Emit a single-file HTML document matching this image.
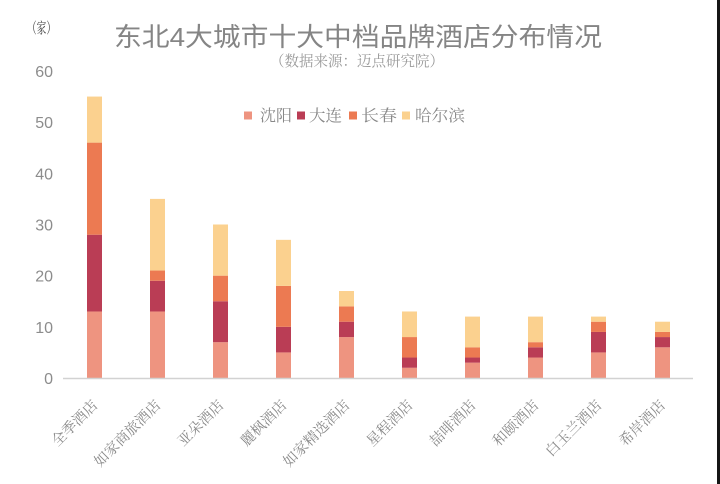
<!DOCTYPE html>
<html>
<head>
<meta charset="utf-8">
<style>
  html, body { margin: 0; padding: 0; background: #fff; }
  body { width: 720px; height: 484px; overflow: hidden; }
  svg { display: block; }
  text { font-family: "Liberation Sans", "Noto Sans CJK SC", sans-serif; }
  .serif { font-family: "Liberation Serif", "Noto Serif CJK SC", serif; }
</style>
</head>
<body>
<svg width="720" height="484" viewBox="0 0 720 484" xmlns="http://www.w3.org/2000/svg">
  <rect x="0" y="0" width="720" height="484" fill="#ffffff"/>
  <text class="serif" x="27" y="33" font-size="15" fill="#444" textLength="29" lengthAdjust="spacingAndGlyphs">（家）</text>
  <text x="114" y="46" font-size="26" fill="#858585" textLength="488" lengthAdjust="spacingAndGlyphs">东北4大城市十大中档品牌酒店分布情况</text>
  <text class="serif" x="270" y="66" font-size="15" fill="#9a9a9a" textLength="174" lengthAdjust="spacingAndGlyphs">（数据来源：迈点研究院）</text>
  <rect x="244" y="111.5" width="8" height="8" fill="#EE9480"/>
  <text class="serif" x="260" y="121" font-size="16" fill="#888" textLength="32" lengthAdjust="spacingAndGlyphs">沈阳</text>
  <rect x="297" y="111.5" width="8" height="8" fill="#BA3D55"/>
  <text class="serif" x="309" y="121" font-size="16" fill="#888" textLength="33" lengthAdjust="spacingAndGlyphs">大连</text>
  <rect x="349" y="111.5" width="8" height="8" fill="#EC7A52"/>
  <text class="serif" x="361" y="121" font-size="16" fill="#888" textLength="36" lengthAdjust="spacingAndGlyphs">长春</text>
  <rect x="402" y="111.5" width="8" height="8" fill="#FBD18F"/>
  <text class="serif" x="415" y="121" font-size="16" fill="#888" textLength="50" lengthAdjust="spacingAndGlyphs">哈尔滨</text>
  <g font-size="16" fill="#8c8c8c" text-anchor="end">
    <text x="53" y="384">0</text>
    <text x="53" y="332.8">10</text>
    <text x="53" y="281.7">20</text>
    <text x="53" y="230.5">30</text>
    <text x="53" y="179.3">40</text>
    <text x="53" y="128.2">50</text>
    <text x="53" y="77">60</text>
  </g>
  <g>
    <rect x="87" y="311.48" width="15" height="66.52" fill="#EE9480"/>
    <rect x="87" y="234.72" width="15" height="76.76" fill="#BA3D55"/>
    <rect x="87" y="142.62" width="15" height="92.10" fill="#EC7A52"/>
    <rect x="87" y="96.57" width="15" height="46.05" fill="#FBD18F"/>
    <rect x="150" y="311.48" width="15" height="66.52" fill="#EE9480"/>
    <rect x="150" y="280.78" width="15" height="30.70" fill="#BA3D55"/>
    <rect x="150" y="270.54" width="15" height="10.24" fill="#EC7A52"/>
    <rect x="150" y="198.90" width="15" height="71.64" fill="#FBD18F"/>
    <rect x="213" y="342.18" width="15" height="35.82" fill="#EE9480"/>
    <rect x="213" y="301.25" width="15" height="40.93" fill="#BA3D55"/>
    <rect x="213" y="275.66" width="15" height="25.59" fill="#EC7A52"/>
    <rect x="213" y="224.49" width="15" height="51.17" fill="#FBD18F"/>
    <rect x="276" y="352.42" width="15" height="25.58" fill="#EE9480"/>
    <rect x="276" y="326.83" width="15" height="25.59" fill="#BA3D55"/>
    <rect x="276" y="285.89" width="15" height="40.94" fill="#EC7A52"/>
    <rect x="276" y="239.84" width="15" height="46.05" fill="#FBD18F"/>
    <rect x="339" y="337.06" width="15" height="40.94" fill="#EE9480"/>
    <rect x="339" y="321.71" width="15" height="15.35" fill="#BA3D55"/>
    <rect x="339" y="306.36" width="15" height="15.35" fill="#EC7A52"/>
    <rect x="339" y="291.01" width="15" height="15.35" fill="#FBD18F"/>
    <rect x="402" y="367.77" width="15" height="10.23" fill="#EE9480"/>
    <rect x="402" y="357.53" width="15" height="10.24" fill="#BA3D55"/>
    <rect x="402" y="337.06" width="15" height="20.47" fill="#EC7A52"/>
    <rect x="402" y="311.48" width="15" height="25.58" fill="#FBD18F"/>
    <rect x="465" y="362.65" width="15" height="15.35" fill="#EE9480"/>
    <rect x="465" y="357.53" width="15" height="5.12" fill="#BA3D55"/>
    <rect x="465" y="347.30" width="15" height="10.23" fill="#EC7A52"/>
    <rect x="465" y="316.60" width="15" height="30.70" fill="#FBD18F"/>
    <rect x="528" y="357.53" width="15" height="20.47" fill="#EE9480"/>
    <rect x="528" y="347.30" width="15" height="10.23" fill="#BA3D55"/>
    <rect x="528" y="342.18" width="15" height="5.12" fill="#EC7A52"/>
    <rect x="528" y="316.60" width="15" height="25.58" fill="#FBD18F"/>
    <rect x="591" y="352.42" width="15" height="25.58" fill="#EE9480"/>
    <rect x="591" y="331.95" width="15" height="20.47" fill="#BA3D55"/>
    <rect x="591" y="321.71" width="15" height="10.24" fill="#EC7A52"/>
    <rect x="591" y="316.60" width="15" height="5.11" fill="#FBD18F"/>
    <rect x="655" y="347.30" width="15" height="30.70" fill="#EE9480"/>
    <rect x="655" y="337.06" width="15" height="10.24" fill="#BA3D55"/>
    <rect x="655" y="331.95" width="15" height="5.11" fill="#EC7A52"/>
    <rect x="655" y="321.71" width="15" height="10.24" fill="#FBD18F"/>
  </g>
  <line x1="63" y1="378.5" x2="693" y2="378.5" stroke="#d2d2d2" stroke-width="1.5"/>
  <g font-size="14.5" fill="#8a8a8a" text-anchor="end">
    <text class="serif" transform="translate(98.5,406) rotate(-45)">全季酒店</text>
    <text class="serif" transform="translate(161.5,406) rotate(-45)">如家商旅酒店</text>
    <text class="serif" transform="translate(224.5,406) rotate(-45)">亚朵酒店</text>
    <text class="serif" transform="translate(287.5,406) rotate(-45)">麗枫酒店</text>
    <text class="serif" transform="translate(350.5,406) rotate(-45)">如家精选酒店</text>
    <text class="serif" transform="translate(413.5,406) rotate(-45)">星程酒店</text>
    <text class="serif" transform="translate(476.5,406) rotate(-45)">喆啡酒店</text>
    <text class="serif" transform="translate(539.5,406) rotate(-45)">和颐酒店</text>
    <text class="serif" transform="translate(602.5,406) rotate(-45)">白玉兰酒店</text>
    <text class="serif" transform="translate(666,406) rotate(-45)">希岸酒店</text>
  </g>
  <rect x="717" y="0" width="3" height="484" fill="#161616"/>
</svg>
</body>
</html>
